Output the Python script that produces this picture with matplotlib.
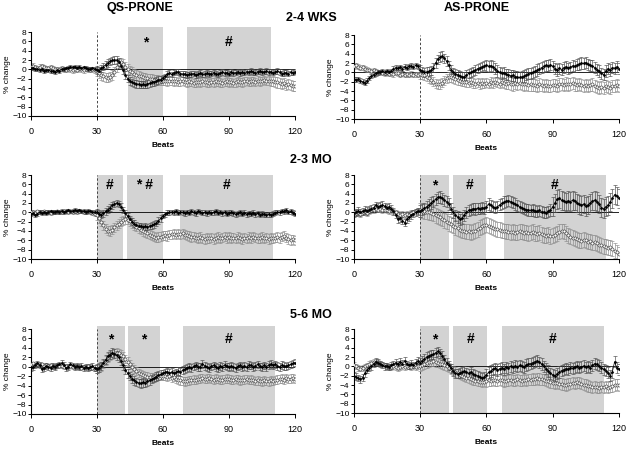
import numpy as np
import matplotlib
matplotlib.use('Agg')
import matplotlib.pyplot as plt

beats = np.arange(0, 121)

# QS-PRONE 2-4 WKS
qs_wk_filled = [0.2, 0.3, 0.0, 0.1, -0.2, 0.0, -0.3, -0.1, -0.2, -0.4,
                -0.3, -0.5, -0.2, -0.3, 0.0, 0.1, 0.2, 0.3, 0.6, 0.4,
                0.6, 0.3, 0.5, 0.2, 0.4, 0.3, 0.1, 0.0, 0.2, 0.1,
                -0.1, -0.3, 0.2, 0.6, 1.0, 1.4, 1.7, 1.9, 2.0, 2.0,
                1.6, 0.8, -0.2, -1.2, -2.0, -2.5, -2.8, -3.0, -3.1, -3.2,
                -3.3, -3.2, -3.3, -3.1, -3.0, -2.8, -2.7, -2.5, -2.3, -2.2,
                -1.8, -1.5, -1.0, -0.8, -1.1, -0.7, -0.5, -0.6, -0.9, -1.0,
                -1.0, -1.2, -1.1, -1.0, -0.9, -1.2, -1.0, -0.8, -1.1, -1.0,
                -0.8, -1.0, -0.9, -0.7, -0.9, -1.1, -0.8, -0.6, -0.8, -0.7,
                -0.9, -0.6, -0.8, -0.7, -0.5, -0.8, -0.6, -0.7, -0.5, -0.6,
                -0.4, -0.6, -0.7, -0.5, -0.3, -0.6, -0.5, -0.4, -0.6, -0.5,
                -0.7, -0.5, -0.4, -0.6, -0.9, -0.8, -0.7, -0.9, -0.6, -0.7,
                -0.5]
qs_wk_open = [0.6, 0.8, 0.5, 0.3, 0.6, 0.7, 0.4, 0.2, 0.3, 0.5,
              0.2, 0.0, 0.1, -0.1, 0.2, 0.0, -0.1, 0.1, 0.0, -0.2,
              0.0, -0.1, 0.2, 0.0, -0.2, 0.1, 0.0, -0.1, 0.0, -0.2,
              -0.4, -0.8, -1.2, -1.5, -1.7, -1.8, -1.6, -1.2, -0.5, 0.4,
              1.2, 1.5, 1.2, 0.6, 0.1, -0.3, -0.6, -0.9, -1.2, -1.4,
              -1.5, -1.7, -1.8, -1.9, -2.0, -2.1, -2.2, -2.2, -2.3, -2.4,
              -2.5, -2.4, -2.6, -2.5, -2.4, -2.6, -2.5, -2.7, -2.6, -2.5,
              -2.7, -2.8, -2.6, -2.7, -2.9, -2.8, -2.7, -2.8, -2.6, -2.7,
              -2.8, -2.9, -2.7, -2.8, -2.6, -2.7, -2.8, -2.9, -2.7, -2.6,
              -2.8, -2.7, -2.9, -2.8, -2.6, -2.7, -2.8, -2.6, -2.5, -2.7,
              -2.6, -2.5, -2.7, -2.4, -2.6, -2.5, -2.3, -2.5, -2.4, -2.6,
              -2.5, -2.7, -2.8, -3.0, -3.1, -3.0, -3.3, -3.2, -3.4, -3.5,
              -3.6]
qs_wk_filled_err = [0.4] * 30 + [0.8] * 30 + [0.6] * 61
qs_wk_open_err = [0.5] * 30 + [1.0] * 30 + [0.9] * 50 + [1.1] * 11

# AS-PRONE 2-4 WKS
as_wk_filled = [-1.5, -1.6, -1.4, -1.8, -2.0, -2.2, -1.8, -1.2, -0.8, -0.5,
                -0.2, 0.0, 0.1, 0.2, 0.0, 0.2, 0.1, 0.3, 0.8, 1.0,
                0.9, 1.1, 0.8, 1.2, 1.0, 1.3, 1.4, 1.2, 1.5, 1.3,
                0.6, 0.2, 0.0, 0.1, 0.2, 0.4, 1.0, 2.0, 2.8, 3.3,
                3.5, 3.0, 2.4, 1.5, 0.6, 0.0, -0.3, -0.5, -0.7, -0.9,
                -1.0, -0.6, -0.2, 0.0, 0.2, 0.5, 0.8, 1.0, 1.2, 1.4,
                1.5, 1.3, 1.4, 1.2, 0.8, 0.3, 0.0, -0.2, -0.1, -0.4,
                -0.5, -0.7, -0.6, -0.9, -1.0, -1.1, -1.0, -0.8, -0.5, -0.3,
                -0.2, 0.0, 0.2, 0.5, 0.8, 1.0, 1.3, 1.5, 1.4, 1.6,
                1.3, 0.8, 0.5, 0.9, 0.6, 1.0, 1.2, 0.9, 1.1, 1.4,
                1.3, 1.6, 1.8, 2.0, 1.9, 2.1, 1.7, 1.5, 1.4, 1.0,
                0.6, 0.3, -0.2, -0.5, 0.3, 0.8, 0.5, 1.0, 0.9, 1.2,
                0.8]
as_wk_open = [1.3, 1.5, 1.2, 1.0, 1.1, 0.8, 0.6, 0.5, 0.3, 0.4,
              0.2, 0.0, 0.1, -0.1, -0.2, 0.0, -0.3, -0.2, -0.4, -0.1,
              -0.2, -0.5, -0.3, -0.6, -0.4, -0.5, -0.3, -0.6, -0.4, -0.5,
              -0.4, -0.5, -0.6, -0.9, -1.2, -1.6, -2.0, -2.4, -2.6, -2.5,
              -2.2, -1.8, -1.3, -1.0, -1.1, -1.3, -1.5, -1.7, -1.8, -2.0,
              -2.0, -2.1, -2.2, -2.0, -2.3, -2.4, -2.2, -2.5, -2.3, -2.4,
              -2.2, -2.4, -2.1, -2.3, -2.0, -2.2, -2.4, -2.1, -2.3, -2.5,
              -2.2, -2.4, -2.6, -2.3, -2.5, -2.2, -2.4, -2.6, -2.5, -2.7,
              -2.6, -2.8, -2.7, -2.9, -2.6, -2.8, -3.0, -2.8, -2.9, -3.0,
              -2.8, -2.7, -2.9, -2.6, -2.5, -2.7, -2.4, -2.6, -2.5, -2.3,
              -2.6, -2.8, -2.5, -2.7, -2.9, -2.8, -3.0, -2.8, -2.6, -3.0,
              -3.1, -3.3, -3.2, -3.4, -3.0, -3.1, -3.3, -2.9, -3.0, -2.8,
              -3.0]
as_wk_filled_err = [0.5] * 30 + [1.0] * 30 + [1.2] * 61
as_wk_open_err = [0.5] * 30 + [1.0] * 40 + [1.3] * 51

# QS-PRONE 2-3 MO
qs_mo23_filled = [-0.3, -0.2, -0.5, -0.3, 0.0, -0.2, 0.1, -0.1, 0.0, 0.2,
                  0.0, 0.1, 0.2, 0.0, 0.3, 0.1, 0.2, 0.4, 0.2, 0.3,
                  0.5, 0.3, 0.4, 0.2, 0.3, 0.1, 0.3, 0.2, 0.0, 0.1,
                  0.0, -0.3, -0.5, -0.2, 0.2, 0.6, 1.0, 1.5, 1.8, 2.0,
                  1.8, 1.2, 0.5, -0.2, -0.8, -1.4, -2.0, -2.4, -2.7, -2.9,
                  -3.0, -3.1, -3.0, -3.1, -2.9, -2.8, -2.6, -2.3, -1.8, -1.3,
                  -0.8, -0.4, -0.1, 0.0, 0.1, 0.0, 0.2, -0.1, 0.1, 0.0,
                  -0.2, 0.1, -0.1, 0.2, 0.0, -0.2, 0.3, 0.1, -0.1, 0.0,
                  -0.2, 0.1, -0.1, 0.0, 0.2, -0.1, 0.1, -0.2, 0.0, -0.3,
                  -0.1, 0.0, -0.2, -0.4, -0.2, 0.0, -0.3, -0.1, -0.4, -0.2,
                  -0.3, -0.1, -0.4, -0.2, -0.5, -0.3, -0.4, -0.6, -0.4, -0.5,
                  -0.3, -0.1, 0.1, 0.0, 0.3, 0.2, 0.4, 0.1, 0.2, -0.1,
                  -0.3]
qs_mo23_open = [0.0, 0.1, -0.1, 0.2, 0.0, 0.1, 0.2, 0.0, 0.1, -0.1,
                0.1, 0.0, 0.2, 0.1, 0.0, 0.2, 0.3, 0.1, 0.2, 0.0,
                0.2, 0.1, 0.3, 0.2, 0.1, 0.0, 0.2, 0.0, -0.1, -0.3,
                -0.6, -1.2, -2.0, -2.8, -3.5, -3.9, -4.0, -3.7, -3.2, -2.8,
                -2.4, -2.0, -1.7, -1.5, -1.6, -1.9, -2.3, -2.7, -3.1, -3.4,
                -3.7, -4.0, -4.2, -4.5, -4.8, -5.0, -5.2, -5.4, -5.3, -5.2,
                -5.0, -4.9, -5.1, -4.8, -4.7, -4.6, -4.8, -4.6, -4.7, -4.5,
                -4.8, -4.9, -5.1, -5.3, -5.2, -5.4, -5.5, -5.3, -5.6, -5.7,
                -5.5, -5.6, -5.4, -5.7, -5.5, -5.3, -5.6, -5.4, -5.2, -5.5,
                -5.3, -5.5, -5.4, -5.6, -5.3, -5.5, -5.7, -5.4, -5.6, -5.3,
                -5.5, -5.2, -5.4, -5.6, -5.5, -5.3, -5.6, -5.4, -5.7, -5.5,
                -5.6, -5.4, -5.3, -5.5, -5.2, -5.0, -5.4, -5.7, -5.9, -5.8,
                -6.0]
qs_mo23_filled_err = [0.4] * 30 + [0.7] * 30 + [0.5] * 61
qs_mo23_open_err = [0.4] * 30 + [1.0] * 91

# AS-PRONE 2-3 MO
as_mo23_filled = [-0.2, 0.0, 0.3, 0.0, 0.2, 0.5, 0.3, 0.6, 0.8, 1.0,
                  1.5, 1.2, 1.4, 1.6, 1.3, 1.0, 1.2, 0.8, 0.2, -0.5,
                  -1.5, -1.2, -1.8, -2.2, -1.5, -1.0, -0.6, -0.3, 0.0, 0.2,
                  0.3, 0.6, 0.9, 1.2, 1.6, 2.0, 2.4, 2.8, 3.2, 3.3,
                  3.0, 2.6, 2.3, 1.8, 0.8, 0.0, -0.6, -1.0, -1.5, -1.2,
                  -0.6, 0.0, 0.4, 0.6, 0.8, 0.7, 0.9, 0.8, 1.0, 0.9,
                  1.2, 1.8, 1.5, 1.2, 1.0, 1.2, 1.6, 1.9, 2.2, 2.4,
                  2.5, 2.3, 2.1, 1.8, 1.5, 1.2, 1.0, 0.8, 0.6, 0.5,
                  0.4, 0.5, 0.3, 0.2, 0.4, 0.1, 0.0, -0.1, 0.2, 0.5,
                  1.2, 2.0, 2.8, 3.0, 2.6, 2.4, 2.2, 2.5, 2.3, 2.6,
                  2.4, 2.0, 1.7, 1.5, 1.8, 1.3, 1.6, 2.0, 2.4, 2.6,
                  2.3, 1.8, 1.0, 0.8, 1.2, 1.5, 2.2, 3.0, 3.8, 3.5,
                  3.0]
as_mo23_open = [0.0, -0.2, 0.1, -0.3, 0.0, 0.2, -0.1, 0.3, 0.5, 0.4,
                0.8, 0.6, 0.7, 0.5, 0.6, 0.4, 0.3, 0.5, 0.2, 0.0,
                -0.3, -0.5, -0.4, -0.6, -0.3, -0.5, -0.2, 0.0, 0.2, 0.3,
                0.5, 0.3, 0.2, 0.1, 0.0, -0.1, -0.3, -0.6, -0.8, -1.1,
                -1.4, -1.7, -2.0, -2.3, -2.6, -2.9, -3.2, -3.4, -3.7, -3.9,
                -4.0, -4.2, -4.1, -4.3, -4.1, -3.9, -3.6, -3.3, -3.0, -2.8,
                -2.7, -2.9, -3.1, -3.3, -3.5, -3.6, -3.7, -3.9, -4.0, -4.1,
                -4.2, -4.3, -4.2, -4.4, -4.3, -4.1, -4.2, -4.4, -4.3, -4.5,
                -4.4, -4.2, -4.5, -4.6, -4.4, -4.7, -4.9, -5.0, -4.8, -5.1,
                -5.0, -4.8, -4.5, -4.2, -4.0, -4.1, -4.5, -4.9, -5.2, -5.4,
                -5.6, -5.8, -6.0, -6.1, -5.9, -6.0, -6.3, -6.2, -6.5, -6.4,
                -6.6, -6.9, -7.1, -7.3, -7.4, -7.6, -7.5, -7.8, -8.2, -8.6,
                -9.0]
as_mo23_filled_err = [0.8] * 30 + [1.2] * 60 + [2.0] * 31
as_mo23_open_err = [0.6] * 30 + [1.6] * 91

# QS-PRONE 5-6 MO
qs_mo56_filled = [-0.2, 0.0, 0.3, 0.7, 0.4, -0.5, -0.2, 0.1, 0.0, -0.2,
                  0.2, 0.0, 0.3, 0.5, 0.8, 0.4, -0.3, 0.0, 0.5, 0.3,
                  0.0, 0.2, -0.1, 0.1, -0.2, 0.0, -0.3, -0.1, 0.2, -0.2,
                  -0.4, -0.2, 0.2, 0.8, 1.5, 2.2, 2.6, 3.0, 2.8, 2.4,
                  2.0, 1.2, 0.3, -0.6, -1.4, -2.0, -2.5, -2.9, -3.2, -3.4,
                  -3.5, -3.3, -3.4, -3.1, -2.9, -2.6, -2.4, -2.1, -1.8, -1.6,
                  -1.4, -1.2, -1.0, -1.3, -1.1, -1.4, -1.2, -0.9, -1.1, -0.7,
                  -0.5, -0.3, 0.0, -0.2, 0.1, 0.3, -0.1, 0.0, 0.6, 0.2,
                  0.0, -0.2, 0.1, 0.3, 0.0, -0.2, 0.2, 0.0, 0.4, 0.1,
                  -0.1, 0.2, 0.0, -0.3, 0.1, 0.3, 0.0, 0.2, -0.1, 0.4,
                  0.3, 0.0, 0.2, 0.5, 0.1, -0.1, 0.3, 0.0, 0.4, 0.6,
                  0.3, 0.5, 0.2, 0.0, 0.4, 0.2, 0.1, 0.3, 0.5, 0.7,
                  0.9]
qs_mo56_open = [0.5, 0.7, 0.4, 0.6, 0.3, 0.5, 0.2, 0.4, 0.1, 0.3,
                0.2, 0.0, 0.3, 0.1, 0.2, 0.0, 0.1, -0.1, 0.2, 0.0,
                -0.1, 0.1, 0.0, -0.2, 0.0, -0.1, 0.1, -0.2, -0.3, -0.4,
                -0.5, -0.3, 0.1, 0.6, 1.3, 2.0, 2.4, 2.6, 2.8, 3.0,
                2.9, 2.6, 2.2, 1.7, 1.1, 0.5, 0.0, -0.5, -0.9, -1.3,
                -1.6, -1.8, -2.0, -2.1, -2.2, -2.3, -2.2, -2.1, -2.0, -1.9,
                -2.0, -1.9, -2.1, -2.0, -2.3, -2.2, -2.5, -2.7, -2.9, -3.0,
                -3.1, -3.0, -2.9, -2.8, -2.7, -2.8, -2.6, -2.5, -2.4, -2.6,
                -2.5, -2.4, -2.6, -2.7, -2.5, -2.6, -2.8, -2.7, -2.6, -2.5,
                -2.6, -2.7, -2.8, -2.6, -2.7, -2.9, -2.8, -2.7, -2.6, -2.8,
                -2.7, -2.8, -3.0, -2.9, -3.0, -3.1, -2.9, -3.0, -3.1, -2.9,
                -3.0, -2.8, -2.7, -2.6, -2.5, -2.7, -2.4, -2.6, -2.5, -2.4,
                -2.6]
qs_mo56_filled_err = [0.6] * 30 + [0.9] * 30 + [0.8] * 61
qs_mo56_open_err = [0.4] * 30 + [0.9] * 91

# AS-PRONE 5-6 MO
as_mo56_filled = [-2.0, -2.2, -2.5, -2.8, -2.4, -1.5, -0.8, -0.3, 0.0, 0.5,
                  1.0, 0.8, 0.5, 0.3, 0.0, 0.1, -0.1, 0.2, 0.5, 0.8,
                  0.4, 1.0, 0.6, 1.2, 0.5, 0.2, 0.6, 0.3, 0.8, 1.2,
                  0.8, 1.2, 1.6, 2.0, 2.3, 2.5, 2.6, 2.9, 3.2, 2.8,
                  2.3, 1.5, 0.8, 0.2, -0.4, -1.0, -1.5, -1.6, -1.4, -1.2,
                  -1.0, -1.3, -1.5, -1.2, -1.6, -1.8, -2.0, -2.2, -2.5, -2.3,
                  -1.8, -1.3, -1.0, -0.6, -0.4, -0.8, -0.5, -0.3, -0.6, -0.2,
                  -0.4, 0.0, -0.2, 0.1, -0.1, 0.2, 0.0, -0.2, 0.3, 0.5,
                  0.6, 0.8, 1.0, 1.2, 0.9, 0.5, 0.0, -0.5, -1.0, -1.5,
                  -1.8, -2.0, -1.6, -1.2, -0.9, -0.7, -0.5, -0.6, -0.3, -0.4,
                  -0.2, 0.0, -0.3, -0.1, 0.1, -0.2, 0.0, -0.3, 0.2, 0.6,
                  0.4, 0.1, -0.3, -0.6, -0.9, -1.4, -2.0, -1.2, 1.0, -0.3,
                  -0.6]
as_mo56_open = [0.3, 0.0, -0.3, -0.5, -0.3, 0.0, 0.2, 0.5, 0.7, 0.9,
                1.0, 0.8, 0.6, 0.4, 0.2, 0.0, -0.1, -0.2, 0.0, -0.1,
                -0.3, -0.1, 0.0, -0.2, 0.1, 0.0, -0.2, 0.1, -0.1, 0.0,
                0.1, 0.3, 0.5, 0.7, 0.9, 1.0, 1.1, 0.9, 0.8, 0.6,
                0.4, 0.2, 0.0, -0.3, -0.6, -0.9, -1.2, -1.5, -1.8, -2.0,
                -2.2, -2.4, -2.6, -2.8, -3.0, -3.1, -3.2, -3.3, -3.4, -3.3,
                -3.2, -3.0, -3.1, -2.9, -3.0, -3.1, -2.9, -3.0, -3.2, -3.1,
                -3.0, -2.9, -3.1, -3.0, -2.8, -3.0, -3.1, -2.9, -3.0, -2.8,
                -2.9, -2.7, -2.8, -2.6, -2.7, -2.8, -2.9, -3.1, -3.2, -3.4,
                -3.5, -3.6, -3.5, -3.7, -3.8, -3.9, -4.0, -3.8, -3.7, -3.5,
                -3.6, -3.4, -3.5, -3.7, -3.9, -4.0, -4.2, -4.3, -4.5, -4.4,
                -4.5, -4.6, -4.4, -4.5, -4.3, -4.6, -4.4, -4.2, -4.0, -3.9,
                -4.0]
as_mo56_filled_err = [0.7] * 30 + [1.0] * 30 + [1.2] * 61
as_mo56_open_err = [0.6] * 30 + [1.0] * 30 + [1.2] * 61

# shaded windows (start, end, label) per panel
qs_wk_spans = [(44, 60, '*'), (71, 109, '#')]
as_wk_spans = []
qs_mo23_spans = [(30, 42, '#'), (43.5, 60, '* #'), (68, 110, '#')]
as_mo23_spans = [(30, 43, '*'), (45, 60, '#'), (68, 114, '#')]
qs_mo56_spans = [(30, 43, '*'), (44, 58.5, '*'), (69, 111, '#')]
as_mo56_spans = [(30, 43, '*'), (45, 60.5, '#'), (67, 113, '#')]

col_titles = ['QS-PRONE', 'AS-PRONE']
row_titles = ['2-4 WKS', '2-3 MO', '5-6 MO']

panels = [
    [(qs_wk_filled, qs_wk_filled_err, qs_wk_open, qs_wk_open_err, qs_wk_spans),
     (as_wk_filled, as_wk_filled_err, as_wk_open, as_wk_open_err, as_wk_spans)],
    [(qs_mo23_filled, qs_mo23_filled_err, qs_mo23_open, qs_mo23_open_err, qs_mo23_spans),
     (as_mo23_filled, as_mo23_filled_err, as_mo23_open, as_mo23_open_err, as_mo23_spans)],
    [(qs_mo56_filled, qs_mo56_filled_err, qs_mo56_open, qs_mo56_open_err, qs_mo56_spans),
     (as_mo56_filled, as_mo56_filled_err, as_mo56_open, as_mo56_open_err, as_mo56_spans)],
]

fig = plt.figure(figsize=(6.26, 4.49), dpi=100)
plt.rcParams['font.family'] = ['Liberation Sans', 'DejaVu Sans']

W, H = 626.0, 449.0
lefts = [30.7, 353.7]
widths = [264.3, 265.3]
tops = [[32, 35], [175, 175], [329, 329]]
bottoms = [[116, 119], [259, 259], [414, 413]]
span_top = [1.06, 1.0, 1.04]

for r in range(3):
    for c in range(2):
        f, fe, o, oe, spans = panels[r][c]
        ax = fig.add_axes([lefts[c] / W, 1 - bottoms[r][c] / H,
                           widths[c] / W, (bottoms[r][c] - tops[r][c]) / H])
        for s, e, lab in spans:
            ax.axvspan(s, e, ymin=0, ymax=span_top[r], color='#d3d3d3', lw=0,
                       clip_on=False, zorder=0)
            ax.text((s + e) / 2, 5.8, lab, ha='center', va='center',
                    fontsize=10, fontweight='bold')
        ax.axhline(0, color='black', lw=0.6, zorder=1)
        ax.axvline(30, color='#444444', lw=0.7, ls=(0, (2.5, 2)), zorder=1)

        ax.errorbar(beats, o, yerr=oe, fmt='none', ecolor='#8a8a8a',
                    elinewidth=0.45, capsize=1.3, capthick=0.45, zorder=2)
        ax.errorbar(beats, f, yerr=fe, fmt='none', ecolor='#4a4a4a',
                    elinewidth=0.45, capsize=1.3, capthick=0.45, zorder=2)
        ax.plot(beats, o, color='#666666', lw=0.4, marker='o', ms=2.2,
                mfc='white', mec='#444444', mew=0.45, zorder=3)
        ax.plot(beats, f, color='black', lw=0.5, marker='D', ms=1.5,
                mfc='black', mec='black', mew=0.3, zorder=4)

        ax.set_xlim(0, 120)
        ax.set_ylim(-10, 8)
        ax.set_xticks([0, 30, 60, 90, 120])
        ax.set_yticks(np.arange(-10, 9, 2))
        ax.spines['top'].set_visible(False)
        ax.spines['right'].set_visible(False)
        ax.spines['left'].set_linewidth(0.8)
        ax.spines['bottom'].set_linewidth(0.8)
        ax.tick_params(axis='x', labelsize=6.5, length=3, width=0.7,
                       pad=5, direction='out', colors='black')
        ax.tick_params(axis='y', labelsize=6, length=2, width=0.7, pad=1)
        ax.set_xlabel('Beats', fontsize=6, fontweight='bold', labelpad=4)
        ax.set_ylabel('% change', fontsize=6, labelpad=1)
        ax.patch.set_alpha(0)

fig.text(140 / W, 1 - 8 / H, col_titles[0], ha='center', va='center',
         fontsize=9, fontweight='bold')
fig.text(477 / W, 1 - 8 / H, col_titles[1], ha='center', va='center',
         fontsize=9, fontweight='bold')
row_y = [18, 160, 315]
for t, y in zip(row_titles, row_y):
    fig.text(311 / W, 1 - y / H, t, ha='center', va='center',
             fontsize=9, fontweight='bold')

fig.savefig('out.png', dpi=100)
